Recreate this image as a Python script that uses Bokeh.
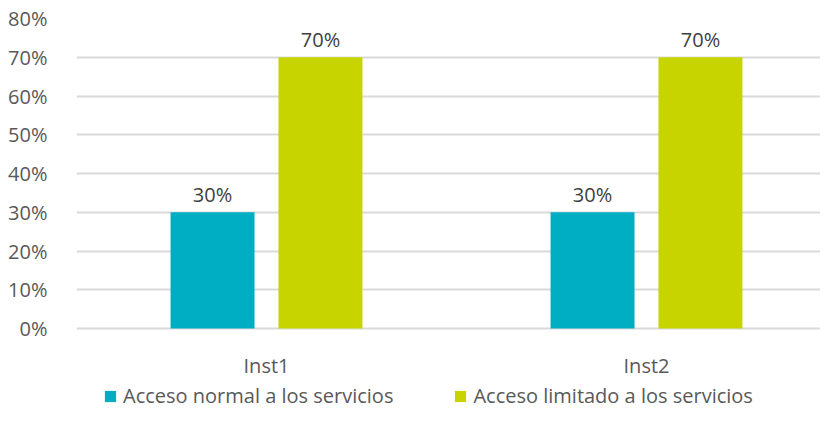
from bokeh.plotting import figure
from bokeh.models import (ColumnDataSource, Range1d, FixedTicker, Legend, LegendItem,
                          NumeralTickFormatter)
from bokeh.core.properties import value
from bokeh.transform import dodge
from bokeh.embed import file_html
from bokeh.resources import INLINE

categories = ["Inst1", "Inst2"]
series_names = ["Acceso normal a los servicios", "Acceso limitado a los servicios"]
normal = [0.30, 0.30]
limitado = [0.70, 0.70]
labels_normal = ["30%", "30%"]
labels_limitado = ["70%", "70%"]
y_ticks = [0, 0.1, 0.2, 0.3, 0.4, 0.5, 0.6, 0.7, 0.8]

colors = ["#00AEC3", "#C8D400"]
FONT = "Open Sans"
zero = [0.0 for _ in categories]

x_pos = [i + 0.5 for i in range(len(categories))]
src = ColumnDataSource(dict(x=x_pos, normal=normal, limitado=limitado, zero=zero,
                            cat=categories, ln=labels_normal, ll=labels_limitado))

# frame: 18..410 px; 0..0.8 spans 310 px, the rest is room below
px_per_unit = 310 / 0.8
p = figure(width=820, height=410, output_backend="svg", toolbar_location=None,
           x_range=Range1d(0, 744 / 380), y_range=Range1d(-82 / px_per_unit, 0.8))
p.min_border_left = 76
p.min_border_right = 0
p.min_border_top = 18
p.min_border_bottom = 0
p.outline_line_color = None
p.background_fill_color = "white"

off = 0.142
bw = 0.221
r1 = p.vbar(x=dodge("x", -off, range=p.x_range), top="normal", width=bw, source=src,
            fill_color=colors[0], line_color=None)
r2 = p.vbar(x=dodge("x", off, range=p.x_range), top="limitado", width=bw, source=src,
            fill_color=colors[1], line_color=None)

p.text(x=dodge("x", -off, range=p.x_range), y="normal", text="ln", source=src,
       text_align="center", text_baseline="alphabetic", y_offset=-18,
       text_font=value(FONT), text_font_size="20px", text_color="#404040")
p.text(x=dodge("x", off, range=p.x_range), y="limitado", text="ll", source=src,
       text_align="center", text_baseline="alphabetic", y_offset=-18,
       text_font=value(FONT), text_font_size="20px", text_color="#404040")

# category labels under the baseline
p.text(x="x", y="zero", text="cat", source=src,
       text_align="center", text_baseline="alphabetic", y_offset=37,
       text_font=value(FONT), text_font_size="20px", text_color="#595959")

p.xaxis.visible = False
p.xgrid.grid_line_color = None

p.yaxis.ticker = FixedTicker(ticks=y_ticks)
p.yaxis.formatter = NumeralTickFormatter(format="0%")
p.yaxis.axis_line_color = None
p.yaxis.major_tick_line_color = None
p.yaxis.minor_tick_line_color = None
p.yaxis.major_label_text_font = FONT
p.yaxis.major_label_text_font_size = "20px"
p.yaxis.major_label_text_color = "#595959"
p.yaxis.major_label_standoff = 23
p.ygrid.ticker = FixedTicker(ticks=y_ticks)
p.ygrid.grid_line_color = "#D9D9D9"
p.ygrid.grid_line_width = 2
p.ygrid.level = "underlay"

legend = Legend(items=[LegendItem(label=series_names[0], renderers=[r1]),
                       LegendItem(label=series_names[1], renderers=[r2])],
                orientation="horizontal", location=(27, 1))
legend.label_text_font = FONT
legend.label_text_font_size = "20px"
legend.label_text_color = "#595959"
legend.label_height = 14
legend.glyph_width = 14
legend.glyph_height = 14
legend.label_standoff = 6
legend.spacing = 60
legend.border_line_color = None
legend.background_fill_alpha = 0
legend.padding = 0
legend.margin = 0
p.add_layout(legend, "center")

open("out.html", "w").write(file_html(p, INLINE))
